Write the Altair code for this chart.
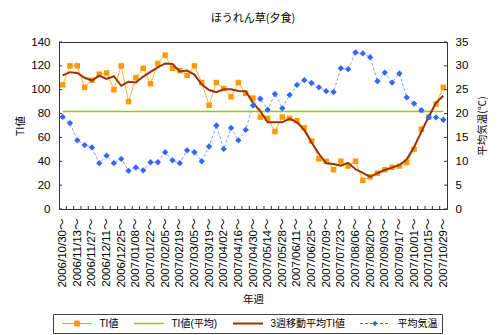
import json
import altair as alt
import pandas as pd

weeks = [
    "2006/10/30～", "2006/11/06～", "2006/11/13～", "2006/11/20～", "2006/11/27～",
    "2006/12/04～", "2006/12/11～", "2006/12/18～", "2006/12/25～", "2007/01/01～",
    "2007/01/08～", "2007/01/15～", "2007/01/22～", "2007/01/29～", "2007/02/05～",
    "2007/02/12～", "2007/02/19～", "2007/02/26～", "2007/03/05～", "2007/03/12～",
    "2007/03/19～", "2007/03/26～", "2007/04/02～", "2007/04/09～", "2007/04/16～",
    "2007/04/23～", "2007/04/30～", "2007/05/07～", "2007/05/14～", "2007/05/21～",
    "2007/05/28～", "2007/06/04～", "2007/06/11～", "2007/06/18～", "2007/06/25～",
    "2007/07/02～", "2007/07/09～", "2007/07/16～", "2007/07/23～", "2007/07/30～",
    "2007/08/06～", "2007/08/13～", "2007/08/20～", "2007/08/27～", "2007/09/03～",
    "2007/09/10～", "2007/09/17～", "2007/09/24～", "2007/10/01～", "2007/10/08～",
    "2007/10/15～", "2007/10/22～", "2007/10/29～",
]

ti_values = [104, 120, 120, 102, 108, 113, 114, 100, 120, 90,
             110, 118, 105, 122, 129, 118, 116, 112, 120, 106,
             87, 106, 101, 94, 106, 97, 93, 77, 76, 65,
             77, 76, 74, 68, 57, 42, 40, 33, 40, 36,
             40, 24, 27, 30, 33, 35, 36, 39, 50, 67,
             77, 88, 102]

ti_average = 81.7

ma3_values = [112.0, 114.7, 114.0, 110.0, 107.7, 111.7, 109.0, 111.3, 103.3, 106.7,
              106.0, 111.0, 115.0, 118.7, 122.0, 121.5, 115.3, 116.0, 112.7, 104.3,
              99.7, 98.0, 100.3, 100.3, 99.0, 98.7, 89.0, 82.0, 72.7, 72.7,
              72.7, 75.7, 72.7, 66.3, 55.7, 46.3, 38.3, 37.7, 36.3, 38.7,
              33.3, 30.3, 27.0, 30.0, 32.7, 34.7, 36.7, 41.7, 52.0, 64.7,
              77.3, 89.0, 95.0]

temp_values = [19.3, 18.0, 14.4, 13.4, 12.9, 9.6, 11.2, 9.6, 10.5, 8.0,
               8.7, 8.1, 9.8, 9.8, 11.9, 10.2, 9.6, 12.3, 11.9, 10.0,
               13.1, 17.5, 12.6, 17.0, 14.4, 16.6, 21.7, 23.1, 20.8, 24.1,
               21.1, 23.9, 26.0, 27.0, 26.4, 25.5, 24.7, 24.5, 29.5, 29.3,
               32.8, 32.6, 31.8, 26.8, 28.6, 26.5, 28.4, 23.4, 22.1, 20.7,
               19.2, 19.2, 18.7]

series_names = ["TI値", "TI値(平均)", "3週移動平均TI値", "平均気温"]
series_colors = ["#FF9900", "#99CC00", "#993300", "#3366FF"]

left_ticks = [0, 20, 40, 60, 80, 100, 120, 140]
right_ticks = [0, 5, 10, 15, 20, 25, 30, 35]

W, H = 388, 167
LATIN = "Liberation Sans, Noto Sans CJK JP, sans-serif"
CJK = "Noto Sans CJK JP, sans-serif"
AXIS_COLOR = "#333333"

n = len(weeks)
idx = list(range(1, n + 1))

df_ti = pd.DataFrame({"idx": idx, "value": ti_values, "series": series_names[0]})
df_avg = pd.DataFrame({"idx": idx, "value": [ti_average] * n, "series": series_names[1]})
df_ma = pd.DataFrame({"idx": idx, "value": ma3_values, "series": series_names[2]})
df_temp = pd.DataFrame({"idx": idx, "temp": temp_values, "series": series_names[3]})
df_xticks = pd.DataFrame({"idx": [i + 0.5 for i in range(1, n)]})
df_lticks = pd.DataFrame({"value": left_ticks})
df_rticks = pd.DataFrame({"temp": right_ticks})

label_expr = json.dumps(weeks, ensure_ascii=False) + "[datum.value - 1]"

x_enc = alt.X(
    "idx:Q",
    scale=alt.Scale(domain=[0.5, n + 0.5], nice=False, zero=False),
    axis=alt.Axis(
        values=list(range(1, n + 1, 2)),
        labelExpr=label_expr,
        labelAngle=270,
        labelFontSize=11.5,
        labelFont=LATIN,
        labelColor="#000000",
        labelPadding=9,
        labelOverlap=False,
        ticks=False,
        grid=False,
        domainColor=AXIS_COLOR,
        title="年週",
        titleFont=CJK,
        titleFontSize=10.5,
        titleFontWeight="normal",
        titleColor="#000000",
        titlePadding=7,
    ),
)

y_left = alt.Y(
    "value:Q",
    scale=alt.Scale(domain=[0, 140], nice=False),
    axis=alt.Axis(
        values=left_ticks,
        ticks=False,
        grid=False,
        labelFontSize=11.5,
        labelFont=LATIN,
        labelColor="#000000",
        labelPadding=9,
        domainColor=AXIS_COLOR,
        title="TI値",
        titleFont=CJK,
        titleFontSize=10.5,
        titleFontWeight="normal",
        titleColor="#000000",
        titlePadding=5,
    ),
)

y_right = alt.Y(
    "temp:Q",
    scale=alt.Scale(domain=[0, 35], nice=False),
    axis=alt.Axis(
        orient="right",
        values=right_ticks,
        ticks=False,
        grid=False,
        labelFontSize=11.5,
        labelFont=LATIN,
        labelColor="#000000",
        labelPadding=8,
        domainColor=AXIS_COLOR,
        title="平均気温(℃)",
        titleFont=CJK,
        titleFontSize=10.5,
        titleFontWeight="normal",
        titleColor="#000000",
        titleAngle=270,
        titleBaseline="top",
        titlePadding=10,
    ),
)

shape_expr = (
    "(datum.value === 'TI値' ? 'M-1,0H1M-0.17,-0.17H0.17V0.17H-0.17Z' : "
    "(datum.value === '平均気温' ? 'M-1,0H1M0,-0.15L0.15,0L0,0.15L-0.15,0Z' : 'stroke'))"
)
fill_expr = (
    "(datum.value === 'TI値' ? '#FF9900' : "
    "(datum.value === '平均気温' ? '#3366FF' : 'transparent'))"
)
dash_expr = "(datum.value === '平均気温' ? [3, 2] : [1, 0])"
width_expr = (
    "(datum.value === '3週移動平均TI値' ? 2 : "
    "(datum.value === 'TI値(平均)' ? 1.5 : 1))"
)

legend = alt.Legend(
    orient="none",
    legendX=-6,
    legendY=272,
    direction="horizontal",
    title=None,
    symbolSize=900,
    clipHeight=11,
    symbolOffset=4.5,
    labelOffset=7,
    columnPadding=10,
    padding=4,
    strokeColor="#444444",
    fillColor="#FFFFFF",
    labelFont=LATIN,
    labelFontSize=10,
    labelColor="#000000",
    symbolType=alt.ExprRef(expr=shape_expr),
    symbolFillColor=alt.ExprRef(expr=fill_expr),
    symbolDash=alt.ExprRef(expr=dash_expr),
    symbolStrokeWidth=alt.ExprRef(expr=width_expr),
)

color_enc = alt.Color(
    "series:N",
    scale=alt.Scale(domain=series_names, range=series_colors),
    legend=legend,
)

xtick_layer = alt.Chart(df_xticks).mark_rule(color=AXIS_COLOR, strokeWidth=1).encode(
    x=x_enc, y=alt.value(H), y2=alt.value(H - 3)
)
ltick_layer = alt.Chart(df_lticks).mark_rule(color=AXIS_COLOR, strokeWidth=1).encode(
    y=y_left, x=alt.value(0), x2=alt.value(3)
)
ti_line = alt.Chart(df_ti).mark_line(color="#FFB03B", strokeWidth=1).encode(x=x_enc, y=y_left)
ti_pts = alt.Chart(df_ti).mark_point(shape="square", filled=True, size=30, opacity=1).encode(
    x=x_enc, y=y_left, color=color_enc
)
avg_line = alt.Chart(df_avg).mark_line(strokeWidth=1.5).encode(x=x_enc, y=y_left, color=color_enc)
ma_line = alt.Chart(df_ma).mark_line(strokeWidth=2).encode(x=x_enc, y=y_left, color=color_enc)

left = alt.layer(xtick_layer, ltick_layer, ti_line, ti_pts, avg_line, ma_line)

rtick_layer = alt.Chart(df_rticks).mark_rule(color=AXIS_COLOR, strokeWidth=1).encode(
    y=y_right, x=alt.value(W - 3), x2=alt.value(W)
)
temp_line = alt.Chart(df_temp).mark_line(color="#7FA3FF", strokeWidth=1, strokeDash=[3, 2]).encode(
    x=x_enc, y=y_right
)
temp_pts = alt.Chart(df_temp).mark_point(shape="diamond", filled=True, size=40, opacity=1).encode(
    x=x_enc, y=y_right, color=color_enc
)

right = alt.layer(rtick_layer, temp_line, temp_pts)

chart = (
    alt.layer(left, right)
    .resolve_scale(y="independent")
    .properties(
        width=W,
        height=H,
        title=alt.TitleParams(
            "ほうれん草(夕食)", font=CJK, fontSize=11, fontWeight="normal",
            color="#000000", anchor="middle", offset=12,
        ),
        padding={"left": 59, "top": 42, "right": 53, "bottom": 126},
        autosize=alt.AutoSizeParams(type="none"),
        background="#FFFFFF",
    )
    .configure_view(stroke=AXIS_COLOR, strokeWidth=1)
)

chart.save("out.html", embed_options={"renderer": "svg", "actions": False})
